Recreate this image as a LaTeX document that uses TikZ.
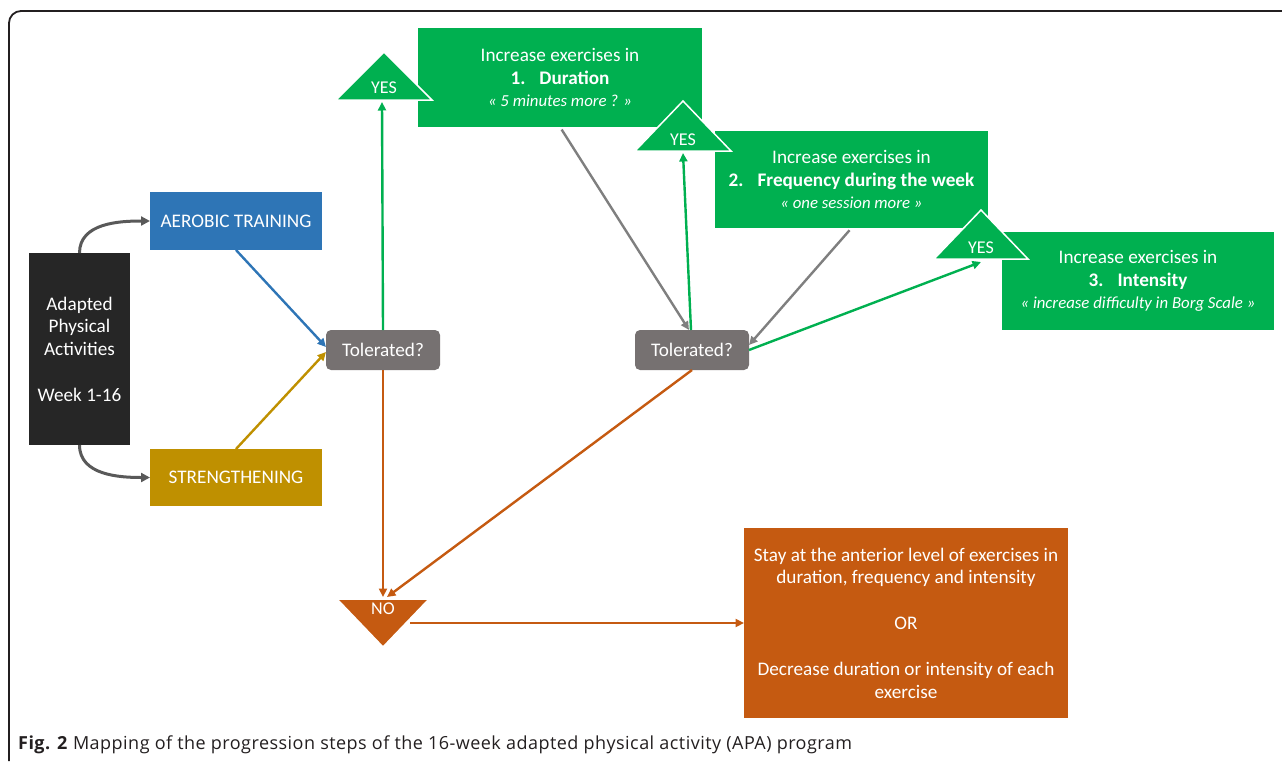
\documentclass[tikz,border=0pt]{standalone}
\usepackage{fontspec}
\setmainfont{Carlito}
\newfontfamily\capfont[LetterSpace=2.6]{Open Sans}
\usetikzlibrary{arrows.meta}
\definecolor{cgreen}{HTML}{00B050}
\definecolor{cblue}{HTML}{2E75B6}
\definecolor{cgold}{HTML}{BF9000}
\definecolor{cgraybox}{HTML}{767171}
\definecolor{cdark}{HTML}{262626}
\definecolor{corange}{HTML}{C55A11}
\definecolor{cgrayline}{HTML}{7F7F7F}
\definecolor{ccurve}{HTML}{595959}
\definecolor{cframe}{HTML}{231F20}
\newcommand{\subtxt}[1]{{\fontsize{16.8}{22.8}\selectfont\itshape #1}}
\begin{document}
\begin{tikzpicture}[x=1pt,y=-1pt,
  box/.style={inner sep=0pt, outer sep=0pt, text=white, align=center,
    font=\fontsize{19.2}{22.8}\selectfont},
  tolbox/.style={box, fill=cgraybox, rounded corners=5pt, minimum width=114pt, minimum height=40pt},
  gbox/.style={box, fill=cgreen},
  tri/.style={draw=white, line width=1.5pt, line join=miter},
  trilabel/.style={text=white, inner sep=0pt, font=\fontsize{18}{20}\selectfont},
  conn/.style={line width=2.4pt, -{Triangle[length=8.5pt,width=8pt]}},
  curvearrow/.style={draw=ccurve, line width=3pt, -{Triangle[length=9pt,width=9pt]}}
]
\useasboundingbox (0,0) rectangle (1282,761);
% frame
\draw[cframe, line width=1.8pt, rounded corners=12pt] (1282,11) -- (9,11) -- (9,761);

% boxes
\node[box, fill=cdark, minimum width=101pt, minimum height=192pt] (apa) at (79.5,349)
  {Adapted\\Physical\\Activities\\[22.8pt]Week 1-16};
\node[box, fill=cblue, minimum width=172pt, minimum height=58pt] (aerobic) at (236,221) {AEROBIC TRAINING};
\node[box, fill=cgold, minimum width=172pt, minimum height=57pt] (strength) at (236,477.5) {STRENGTHENING};
\node[tolbox] (tol1) at (383,350) {Tolerated?};
\node[tolbox] (tol2) at (692,350) {Tolerated?};
\node[gbox, minimum width=284pt, minimum height=99pt] (box1) at (560,77.5)
  {Increase exercises in\\\textbf{1.\hspace{14pt}Duration}\\\subtxt{« 5 minutes more ? »}};
\node[gbox, minimum width=273pt, minimum height=97pt] (box2) at (851.5,179.5)
  {Increase exercises in\\\textbf{2.\hspace{14pt}Frequency during the week}\\\subtxt{« one session more »}};
\node[gbox, minimum width=272pt, minimum height=98pt] (box3) at (1138,281)
  {Increase exercises in\\\textbf{3.\hspace{14pt}Intensity}\\\subtxt{« increase difficulty in Borg Scale »}};
\node[box, fill=corange, minimum width=324pt, minimum height=190pt] (stay) at (906,623)
  {Stay at the anterior level of exercises in\\duration, frequency and intensity\\[23pt]OR\\[23pt]Decrease duration or intensity of each\\exercise};

% triangles
\filldraw[tri, fill=cgreen] (336,100) -- (384,52) -- (432,100) -- cycle;
\node[trilabel] (yes1) at (384,88) {YES};
\filldraw[tri, fill=cgreen] (635,151) -- (683,101) -- (731,151) -- cycle;
\node[trilabel] (yes2) at (683,140) {YES};
\filldraw[tri, fill=cgreen] (934,259) -- (981,210) -- (1028,259) -- cycle;
\node[trilabel] (yes3) at (981,248) {YES};
\filldraw[tri, fill=corange] (337,599) -- (429,599) -- (383,647) -- cycle;
\node[trilabel] (no) at (383,609) {NO};

% connector end coordinates on the triangles
\coordinate (yes1b) at (382,102);
\coordinate (yes2b) at (683,153);
\coordinate (yes3b) at (981,262);
\coordinate (not1) at (383,597);
\coordinate (not2) at (387,597);
\coordinate (nor) at (410,623);

% connectors
\draw[curvearrow] (apa.north) to[out=90,in=180] (aerobic.west);
\draw[curvearrow] (apa.south) to[out=-90,in=180] (strength.west);
\draw[conn, cblue] (aerobic.south) -- ([yshift=3pt]tol1.west);
\draw[conn, cgold] (strength.north) -- ([yshift=-2pt]tol1.west);
\draw[conn, cgreen] (tol1.north) -- (yes1b);
\draw[conn, corange] (tol1.south) -- (not1);
\draw[conn, cgrayline, shorten <=3pt] (box1.south) -- ([xshift=-3pt]tol2.north);
\draw[conn, cgreen] ([xshift=-1pt]tol2.north) -- (yes2b);
\draw[conn, cgrayline, shorten <=3pt] (box2.south) -- ([yshift=5pt]tol2.east);
\draw[conn, cgreen] (tol2.east) -- (yes3b);
\draw[conn, corange] (tol2.south) -- (not2);
\draw[conn, corange] (nor) -- (stay.west);

% caption
\node[anchor=west, inner sep=0pt, text=cframe, font=\capfont\fontsize{18}{20}\selectfont] (cap) at (18,745)
  {\textbf{Fig. 2} Mapping of the progression steps of the 16-week adapted physical activity (APA) program};
\end{tikzpicture}
\end{document}
